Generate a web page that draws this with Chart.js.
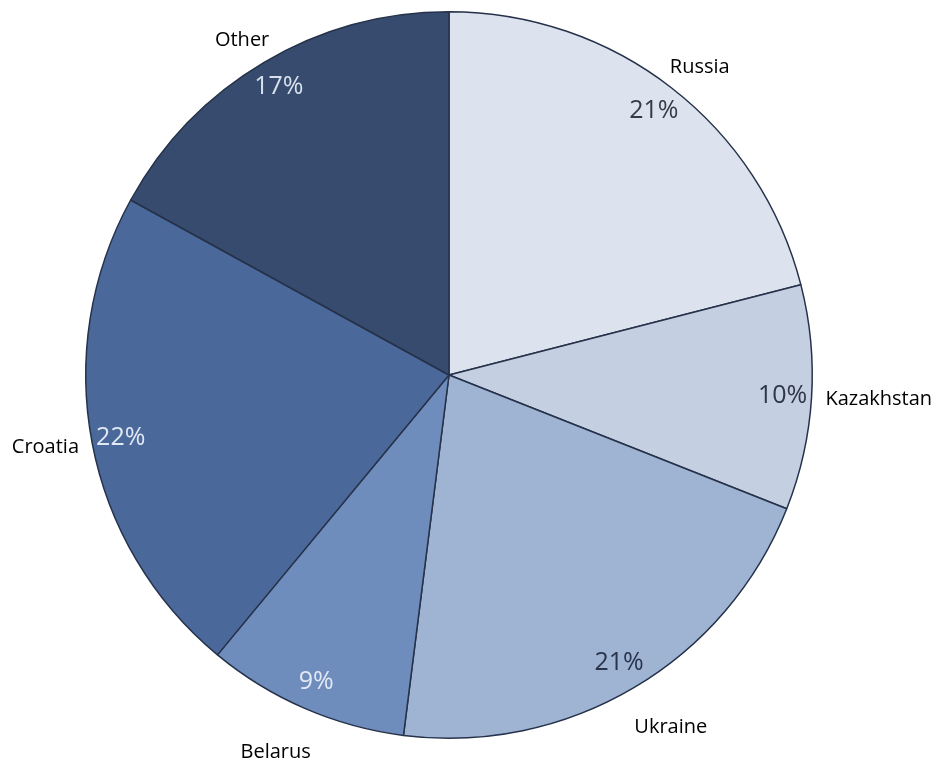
<!DOCTYPE html>
<html>
<head>
<meta charset="utf-8">
<script src="https://cdn.jsdelivr.net/npm/chart.js@4"></script>
<style>
  body { margin: 0; background: #fff; }
  #wrap { width: 938px; height: 762px; }
</style>
</head>
<body>
<div id="wrap"><canvas id="pieChart"></canvas></div>
<script>
const countries = ["Russia", "Kazakhstan", "Ukraine", "Belarus", "Croatia", "Other"];
const shares = [21, 10, 21, 9, 22, 17];
const sliceColors = ["#dce3ef", "#c4cfe2", "#9fb3d3", "#6e8cbc", "#4a689a", "#364b6d"];
const pctColors = ["#333a48", "#2e3648", "#28344c", "#e2e9f5", "#e2e9f5", "#d9e1ee"];

// draws "xx%" inside each slice and the country name outside
const sliceLabels = {
    id: 'sliceLabels',
    afterDatasetsDraw(chart, args, opts) {
        const ctx = chart.ctx;
        const total = shares.reduce((a, b) => a + b, 0);
        chart.getDatasetMeta(0).data.forEach((arc, i) => {
            const p = arc.getProps(['x', 'y', 'startAngle', 'endAngle', 'outerRadius'], true);
            const mid = (p.startAngle + p.endAngle) / 2;
            const c = Math.cos(mid), s = Math.sin(mid);

            ctx.save();
            ctx.textAlign = 'center';
            ctx.textBaseline = 'middle';
            ctx.font = '25px "Open Sans"';
            ctx.fillStyle = pctColors[i];
            const r1 = p.outerRadius * 0.92;
            ctx.fillText(Math.round(shares[i] / total * 100) + '%', p.x + c * r1, p.y + s * r1);

            ctx.font = '20px "Open Sans"';
            ctx.fillStyle = '#000';
            const w = ctx.measureText(countries[i]).width;
            const r2 = p.outerRadius + opts.offsets[i];
            ctx.fillText(countries[i], p.x + c * r2 + c * w / 2, p.y + s * r2 + s * 10);
            ctx.restore();
        });
    }
};

new Chart(document.getElementById("pieChart"), {
    type: 'pie',
    data: {
        labels: countries,
        datasets: [{
            data: shares,
            backgroundColor: sliceColors,
            borderColor: "#26324a",
            borderWidth: 1.5
        }]
    },
    options: {
        responsive: true,
        maintainAspectRatio: false,
        animation: false,
        layout: { padding: { left: 85, top: 11, right: 125, bottom: 23 } },
        plugins: {
            legend: { display: false },
            tooltip: { enabled: false },
            sliceLabels: { offsets: [16, 14, 36, 38, 14, 16] }
        }
    },
    plugins: [sliceLabels]
});
</script>
</body>
</html>
